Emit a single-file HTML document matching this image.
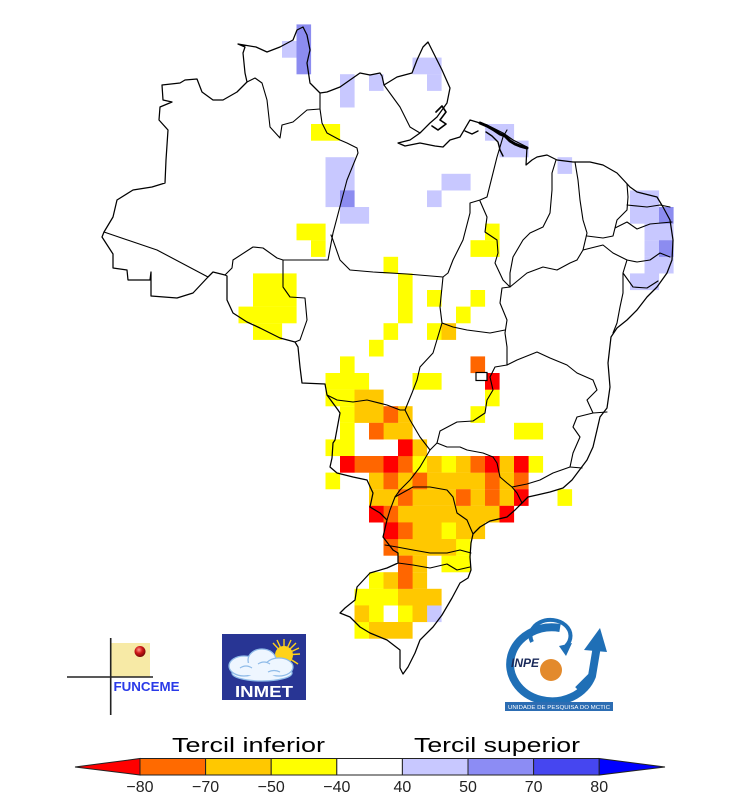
<!DOCTYPE html>
<html><head><meta charset="utf-8"><style>
html,body{margin:0;padding:0;background:#fff;}
svg{display:block;}
.L{fill:#c8c8ff}.M{fill:#8c8cf0}.Y{fill:#ffff00}.G{fill:#ffc800}.O{fill:#ff6600}.R{fill:#ff0000}
.b{fill:none;stroke:#000;stroke-width:1.25;stroke-linejoin:round;stroke-linecap:round}
</style></head><body>
<svg width="740" height="800" viewBox="0 0 740 800" xmlns="http://www.w3.org/2000/svg">
<rect width="740" height="800" fill="#fff"/>
<g class="L">
<rect x="282" y="41" width="14.6" height="16.7"/>
<rect x="340" y="74.2" width="14.6" height="33.3"/>
<rect x="369" y="74.2" width="14.6" height="16.7"/>
<rect x="412.5" y="57.6" width="29.1" height="16.7"/>
<rect x="427" y="74.2" width="14.6" height="16.7"/>
<rect x="485" y="124" width="29.1" height="16.7"/>
<rect x="499.5" y="140.6" width="29.1" height="16.7"/>
<rect x="557.5" y="157.2" width="14.6" height="16.7"/>
<rect x="441.5" y="173.8" width="29.1" height="16.7"/>
<rect x="427" y="190.4" width="14.6" height="16.7"/>
<rect x="325.5" y="157.2" width="14.6" height="49.9"/>
<rect x="340" y="157.2" width="14.6" height="33.3"/>
<rect x="340" y="207" width="29.1" height="16.7"/>
<rect x="630" y="190.4" width="29.1" height="33.3"/>
<rect x="644.5" y="223.6" width="29.1" height="16.7"/>
<rect x="644.5" y="240.2" width="14.6" height="16.7"/>
<rect x="644.5" y="256.8" width="29.1" height="16.7"/>
<rect x="630" y="273.4" width="29.1" height="16.7"/>
<rect x="427" y="605.4" width="14.6" height="16.7"/>
</g>
<g class="M">
<rect x="296.5" y="24.4" width="14.6" height="49.9"/>
<rect x="340" y="190.4" width="14.6" height="16.7"/>
<rect x="659" y="207" width="14.6" height="16.7"/>
<rect x="659" y="240.2" width="14.6" height="16.7"/>
</g>
<g class="Y">
<rect x="311" y="124" width="29.1" height="16.7"/>
<rect x="296.5" y="223.6" width="29.1" height="16.7"/>
<rect x="311" y="240.2" width="14.6" height="16.7"/>
<rect x="253" y="273.4" width="43.6" height="33.3"/>
<rect x="238.5" y="306.6" width="58.1" height="16.7"/>
<rect x="253" y="323.2" width="29.1" height="16.7"/>
<rect x="383.5" y="256.8" width="14.6" height="16.7"/>
<rect x="398" y="273.4" width="14.6" height="49.9"/>
<rect x="383.5" y="323.2" width="14.6" height="16.7"/>
<rect x="369" y="339.8" width="14.6" height="16.7"/>
<rect x="427" y="290" width="14.6" height="16.7"/>
<rect x="427" y="323.2" width="14.6" height="16.7"/>
<rect x="470.5" y="290" width="14.6" height="16.7"/>
<rect x="456" y="306.6" width="14.6" height="16.7"/>
<rect x="485" y="223.6" width="14.6" height="16.7"/>
<rect x="470.5" y="240.2" width="29.1" height="16.7"/>
<rect x="340" y="356.4" width="14.6" height="16.7"/>
<rect x="325.5" y="373" width="43.6" height="16.7"/>
<rect x="412.5" y="373" width="29.1" height="16.7"/>
<rect x="325.5" y="389.6" width="29.1" height="16.7"/>
<rect x="485" y="389.6" width="14.6" height="16.7"/>
<rect x="340" y="406.2" width="14.6" height="16.7"/>
<rect x="470.5" y="406.2" width="14.6" height="16.7"/>
<rect x="340" y="422.8" width="14.6" height="16.7"/>
<rect x="514" y="422.8" width="29.1" height="16.7"/>
<rect x="325.5" y="439.4" width="29.1" height="16.7"/>
<rect x="412.5" y="456" width="14.6" height="16.7"/>
<rect x="441.5" y="456" width="14.6" height="16.7"/>
<rect x="528.5" y="456" width="14.6" height="16.7"/>
<rect x="325.5" y="472.6" width="14.6" height="16.7"/>
<rect x="557.5" y="489.2" width="14.6" height="16.7"/>
<rect x="441.5" y="522.4" width="14.6" height="16.7"/>
<rect x="456" y="539" width="14.6" height="16.7"/>
<rect x="441.5" y="555.6" width="29.1" height="16.7"/>
<rect x="369" y="572.2" width="14.6" height="16.7"/>
<rect x="354.5" y="588.8" width="43.6" height="16.7"/>
<rect x="369" y="605.4" width="14.6" height="16.7"/>
<rect x="398" y="605.4" width="14.6" height="16.7"/>
<rect x="354.5" y="622" width="14.6" height="16.7"/>
</g>
<g class="G">
<rect x="441.5" y="323.2" width="14.6" height="16.7"/>
<rect x="354.5" y="389.6" width="29.1" height="33.3"/>
<rect x="398" y="406.2" width="14.6" height="16.7"/>
<rect x="383.5" y="422.8" width="29.1" height="16.7"/>
<rect x="412.5" y="439.4" width="14.6" height="16.7"/>
<rect x="427" y="456" width="14.6" height="16.7"/>
<rect x="456" y="456" width="14.6" height="16.7"/>
<rect x="499.5" y="456" width="14.6" height="16.7"/>
<rect x="369" y="472.6" width="14.6" height="16.7"/>
<rect x="398" y="472.6" width="14.6" height="16.7"/>
<rect x="427" y="472.6" width="58.1" height="16.7"/>
<rect x="499.5" y="472.6" width="14.6" height="16.7"/>
<rect x="369" y="489.2" width="29.1" height="16.7"/>
<rect x="412.5" y="489.2" width="43.6" height="16.7"/>
<rect x="470.5" y="489.2" width="14.6" height="16.7"/>
<rect x="499.5" y="489.2" width="14.6" height="16.7"/>
<rect x="398" y="505.8" width="101.6" height="16.7"/>
<rect x="412.5" y="522.4" width="29.1" height="16.7"/>
<rect x="456" y="522.4" width="29.1" height="16.7"/>
<rect x="398" y="539" width="58.1" height="16.7"/>
<rect x="412.5" y="555.6" width="14.6" height="16.7"/>
<rect x="383.5" y="572.2" width="14.6" height="16.7"/>
<rect x="412.5" y="572.2" width="14.6" height="16.7"/>
<rect x="398" y="588.8" width="43.6" height="16.7"/>
<rect x="354.5" y="605.4" width="14.6" height="16.7"/>
<rect x="412.5" y="605.4" width="14.6" height="16.7"/>
<rect x="369" y="622" width="43.6" height="16.7"/>
</g>
<g class="O">
<rect x="470.5" y="356.4" width="14.6" height="16.7"/>
<rect x="383.5" y="406.2" width="14.6" height="16.7"/>
<rect x="369" y="422.8" width="14.6" height="16.7"/>
<rect x="354.5" y="456" width="29.1" height="16.7"/>
<rect x="398" y="456" width="14.6" height="16.7"/>
<rect x="470.5" y="456" width="14.6" height="16.7"/>
<rect x="383.5" y="472.6" width="14.6" height="16.7"/>
<rect x="412.5" y="472.6" width="14.6" height="16.7"/>
<rect x="485" y="472.6" width="14.6" height="16.7"/>
<rect x="514" y="472.6" width="14.6" height="16.7"/>
<rect x="398" y="489.2" width="14.6" height="16.7"/>
<rect x="456" y="489.2" width="14.6" height="16.7"/>
<rect x="485" y="489.2" width="14.6" height="16.7"/>
<rect x="383.5" y="505.8" width="14.6" height="16.7"/>
<rect x="398" y="522.4" width="14.6" height="16.7"/>
<rect x="383.5" y="539" width="14.6" height="16.7"/>
<rect x="398" y="555.6" width="14.6" height="33.3"/>
</g>
<g class="R">
<rect x="485" y="373" width="14.6" height="16.7"/>
<rect x="398" y="439.4" width="14.6" height="16.7"/>
<rect x="340" y="456" width="14.6" height="16.7"/>
<rect x="383.5" y="456" width="14.6" height="16.7"/>
<rect x="485" y="456" width="14.6" height="16.7"/>
<rect x="514" y="456" width="14.6" height="16.7"/>
<rect x="514" y="489.2" width="14.6" height="16.7"/>
<rect x="369" y="505.8" width="14.6" height="16.7"/>
<rect x="499.5" y="505.8" width="14.6" height="16.7"/>
<rect x="383.5" y="522.4" width="14.6" height="16.7"/>
</g>
<rect x="476" y="372.5" width="11" height="8" fill="#fff" stroke="#000" stroke-width="1.2"/>

<path class="b" d="M162,85 L180,83 185,80 197,79 202,92 213,100 223,100 237,92 247,82 245,73 243,53 245,47 238,44 256,47 267,52 280,47 293,40 297,30 303,27 307,35 310,50 307,63 310,83 320,93 327,92 340,87 350,80 360,73 370,75 380,73 382,76 384,85 397,77 412,73 417,60 423,47 428,42 433,52 442,70 450,88 447,103 437,117 430,123 420,133 410,140 398,143 405,146 420,143 435,146 443,147 450,140 460,137 470,120 480,123 487,125 503,133 513,140 527,147 526,165 532,160 537,157 547,155 557,160 573,162 590,162 603,165 617,173 630,187 637,192 657,197 663,207 670,220 673,240 672,260 667,273 657,287 647,297 637,310 627,320 617,328 611,337 608,363 610,387 607,408 600,417 597,430 593,447 587,460 578,472 572,480 563,488 550,492 537,495 528,497 522,503 515,510 507,517 490,521 480,527 473,534 471,543 470,557 471,570 468,578 460,583 452,598 442,615 433,627 420,640 415,653 408,667 403,674 400,668 400,650 387,640 370,633 360,627 350,617 340,613 345,608 355,600 357,587 370,573 387,568 398,563 398,553 393,550 383,537 387,520 380,513 370,507 373,493 367,480 353,477 337,473 330,467 332,458 333,443 335,440 340,413 338,410 327,395 325,384 302,383 300,367 298,347 295,342 280,338 260,328 247,322 233,313 227,300 227,276 225,275 213,272 208,277 193,293 177,298 151,296 151,272 150,280 128,280 127,270 113,268 113,254 102,237 104,232 113,217 117,200 133,190 152,187 165,183 166,160 168,130 159,120 160,107 172,102 163,100 Z"/>
<!-- heavier jagged coast near Amazon mouth -->
<g fill="none" stroke="#000" stroke-linejoin="round" stroke-linecap="round">
<path d="M436,112 L442,106 446,112 440,120 446,124 438,130 432,126" stroke-width="1.6"/>
<path d="M480,123 L487,126 494,130 500,134 505,136 510,141 515,144 520,146 527,148" stroke-width="3"/>
<path d="M486,132 L492,136 498,142 500,150 503,156" stroke-width="1.4"/>
<path d="M465,131 L472,134 478,131" stroke-width="1.4"/>
</g>
<g class="b" style="stroke-width:1.1">
<polyline points="104,232 157,250 208,277"/>
<polyline points="225,275 232,268 233,260 253,247 263,248 277,258 283,260"/>
<polyline points="283,260 328,260"/>
<polyline points="283,260 283,287 290,297 305,298 307,320 300,340 295,342"/>
<polyline points="247,82 255,78 262,83 267,100 270,127 280,138 282,125 293,122 307,110 320,109 320,93"/>
<polyline points="320,109 322,123 327,133 340,140 347,143 357,148 358,153 347,180 333,233 328,260"/>
<polyline points="331,235 333,240 340,260 350,270 373,272 407,274 443,277"/>
<polyline points="384,85 400,107 410,127 420,133"/>
<polyline points="443,277 448,273 453,260 463,240 470,213 470,203 480,200 487,197 497,157 503,137 507,130"/>
<polyline points="480,201 487,217 485,232 497,240 498,253 495,263 503,280 510,287"/>
<polyline points="556,160 552,173 552,190 550,213 543,227 530,233 523,240 513,257 510,273 510,287"/>
<polyline points="575,162 578,180 580,200 583,220 587,233 583,250 577,260"/>
<polyline points="510,287 527,273 543,267 557,270 570,263 577,260"/>
<polyline points="627,184 628,197 627,210 617,220 615,228 613,236 603,238 587,236"/>
<polyline points="627,205 647,207 660,205 670,207"/>
<polyline points="615,228 627,222 637,229 650,224 672,222"/>
<polyline points="583,250 603,245 613,253 627,260 637,262 650,260 660,253 670,257"/>
<polyline points="627,260 623,273 633,287 647,288 658,281"/>
<polyline points="623,273 623,293 620,307 617,323 613,333"/>
<polyline points="510,287 502,288 500,303 507,320 505,333 507,347 507,365"/>
<polyline points="442,323 453,327 467,330 490,333 505,330"/>
<polyline points="507,365 517,360 537,352 550,358 567,365 577,373 593,380 597,390 587,400 593,413 607,412"/>
<polyline points="507,365 495,367 490,377 493,390 487,400 485,413 473,421 457,422 440,431 437,443"/>
<polyline points="437,443 447,447 460,447 467,450 483,453 493,457 497,463 500,477 507,483 512,487"/>
<polyline points="570,467 553,473 540,480 527,484 512,487 517,493 522,503"/>
<polyline points="593,413 577,417 573,427 580,437 573,453 570,467 582,468"/>
<polyline points="443,277 440,307 442,323 433,353 420,367 417,380 412,393 405,410"/>
<polyline points="327,395 337,400 353,402 367,400 387,405 400,410 405,410"/>
<polyline points="405,410 410,420 420,437 430,450 437,443"/>
<polyline points="430,450 420,467 410,480 400,490 395,497 390,510 387,520"/>
<polyline points="395,497 413,487 430,487 447,490 453,497 457,513 467,520 473,534"/>
<polyline points="385,545 397,547 413,550 430,553 447,553 460,550 471,553"/>
<polyline points="398,563 413,565 430,568 447,564 457,570 470,567"/>
</g>

<!-- FUNCEME logo -->
<rect x="110.5" y="643" width="39.5" height="34" fill="#f7eaa6"/>
<defs>
<radialGradient id="ball" cx="0.4" cy="0.35" r="0.7"><stop offset="0" stop-color="#ff9a8a"/><stop offset="0.45" stop-color="#d01818"/><stop offset="1" stop-color="#6a0505"/></radialGradient>
</defs>
<circle cx="140" cy="651.5" r="5.5" fill="url(#ball)"/>
<line x1="110.7" y1="638" x2="110.7" y2="715" stroke="#222" stroke-width="1.6"/>
<line x1="67" y1="677" x2="153" y2="677" stroke="#222" stroke-width="1.6"/>
<text x="113.5" y="691" font-family="Liberation Sans, sans-serif" font-weight="bold" font-size="12.5" fill="#2a3ae8" textLength="66" lengthAdjust="spacingAndGlyphs">FUNCEME</text>

<!-- INMET logo -->
<rect x="222" y="634" width="84" height="66" fill="#283594"/>
<g stroke="#ffd21a" stroke-width="1.4">
<line x1="284" y1="655" x2="284" y2="639"/><line x1="284" y1="655" x2="296" y2="643"/><line x1="284" y1="655" x2="300" y2="654"/><line x1="284" y1="655" x2="273" y2="643"/><line x1="284" y1="655" x2="298" y2="664"/><line x1="284" y1="655" x2="291" y2="640"/><line x1="284" y1="655" x2="299" y2="648"/><line x1="284" y1="655" x2="277" y2="640"/>
</g>
<circle cx="284" cy="655" r="9" fill="#ffd21a"/>
<g fill="#eef6ff" stroke="#8fbbe8" stroke-width="1.3">
<ellipse cx="262" cy="673" rx="30" ry="8"/>
<ellipse cx="244" cy="666" rx="15" ry="10"/>
<ellipse cx="262" cy="660" rx="14" ry="11"/>
<ellipse cx="279" cy="667" rx="14" ry="9"/>
</g>
<ellipse cx="262" cy="669" rx="27" ry="7" fill="#eef6ff"/>
<path d="M240,668 q6,-4 12,0 M258,664 q6,-4 12,0 M268,672 q6,-3 12,0" fill="none" stroke="#8fbbe8" stroke-width="1.2"/>
<text x="235" y="697" font-family="Liberation Sans, sans-serif" font-weight="bold" font-size="16" fill="#fff" textLength="58" lengthAdjust="spacingAndGlyphs">INMET</text>

<!-- INPE logo -->
<path d="M592,676 A42,37 0 1 1 560,628" fill="none" stroke="#1f6fb6" stroke-width="8"/>
<path d="M578,690 L592,676 L597,646" fill="none" stroke="#1f6fb6" stroke-width="8" stroke-linejoin="round"/>
<polygon points="584,650 600,628 607,652" fill="#1f6fb6"/>
<path d="M532,642 A20,16 0 1 1 566,646" fill="none" stroke="#1f6fb6" stroke-width="4"/>
<polygon points="559,646 572,643 566,656" fill="#1f6fb6"/>
<circle cx="551" cy="670" r="11" fill="#e38a2c"/>
<text x="511" y="667" font-family="Liberation Sans, sans-serif" font-weight="bold" font-style="italic" font-size="12" fill="#1a2a5a" textLength="28" lengthAdjust="spacingAndGlyphs">INPE</text>
<rect x="505" y="702" width="108" height="9" fill="#2c6db3"/>
<text x="508" y="709" font-family="Liberation Sans, sans-serif" font-size="5.5" fill="#fff" textLength="102" lengthAdjust="spacingAndGlyphs">UNIDADE DE PESQUISA DO MCTIC</text>

<!-- Legend -->
<text x="172" y="752" font-family="Liberation Sans, sans-serif" font-size="20" fill="#000" textLength="153" lengthAdjust="spacingAndGlyphs">Tercil  inferior</text>
<text x="414" y="752" font-family="Liberation Sans, sans-serif" font-size="20" fill="#000" textLength="166" lengthAdjust="spacingAndGlyphs">Tercil  superior</text>
<g stroke="#222" stroke-width="1">
<polygon points="75,767 140,758.5 140,775" fill="#ff0000"/>
<rect x="140" y="758.5" width="65.6" height="16.5" fill="#ff6a00"/>
<rect x="205.6" y="758.5" width="65.6" height="16.5" fill="#ffc800"/>
<rect x="271.2" y="758.5" width="65.6" height="16.5" fill="#ffff00"/>
<rect x="336.8" y="758.5" width="65.6" height="16.5" fill="#ffffff"/>
<rect x="402.4" y="758.5" width="65.6" height="16.5" fill="#c8c8ff"/>
<rect x="468" y="758.5" width="65.6" height="16.5" fill="#8c8cf4"/>
<rect x="533.6" y="758.5" width="65.6" height="16.5" fill="#4646f0"/>
<polygon points="599.2,758.5 665,767 599.2,775" fill="#0000ff"/>
</g>
<g font-family="Liberation Sans, sans-serif" font-size="16" fill="#222" text-anchor="middle">
<text x="140" y="792">−80</text>
<text x="205.6" y="792">−70</text>
<text x="271.2" y="792">−50</text>
<text x="336.8" y="792">−40</text>
<text x="402.4" y="792">40</text>
<text x="468" y="792">50</text>
<text x="533.6" y="792">70</text>
<text x="599.2" y="792">80</text>
</g>
</svg>
</body></html>
